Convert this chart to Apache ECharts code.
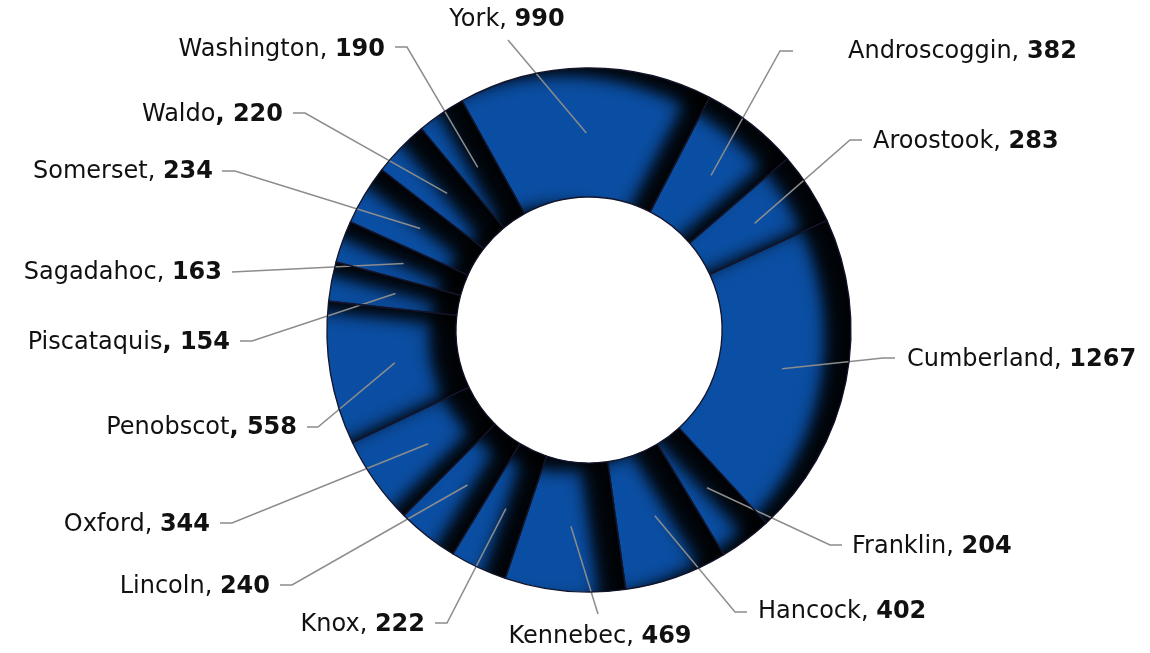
<!DOCTYPE html>
<html><head><meta charset="utf-8">
<script src="https://cdn.jsdelivr.net/npm/echarts@6/dist/echarts.min.js"></script>
<style>html,body{margin:0;padding:0;background:#fff}#c{width:1150px;height:653px}</style>
</head><body><div id="c"></div>
<script>
// ---- data ----
const counties = ['Androscoggin','Aroostook','Cumberland','Franklin','Hancock','Kennebec','Knox','Lincoln','Oxford','Penobscot','Piscataquis','Sagadahoc','Somerset','Waldo','Washington','York'];
const values = [382,283,1267,204,402,469,222,240,344,558,154,163,234,220,190,990];
const boldComma = ['Waldo','Piscataquis','Penobscot'];

// ---- layout / style ----
const CX = 589, CY = 330, R_OUT = 262, R_IN = 133, START_DEG = 27.4;
const LINE_R = 197;
const BLUE = '#0a4fa5';
const FONT = 'DejaVu Sans';
const FS = 24;
// label placement: [elbowX, elbowY, lineEndX, textX, textY, align]
const labelPlace = [
  [780, 51, 793, 848, 52, 'left'],
  [850, 140, 862, 873, 142, 'left'],
  [883, 358, 895, 907, 360, 'left'],
  [830, 545, 842, 852, 547, 'left'],
  [735, 612, 747, 758, 612, 'left'],
  [598, 614, 598, 600, 637, 'center'],
  [447, 623, 435, 425, 625, 'right'],
  [292, 585, 280, 270, 587, 'right'],
  [232, 523, 220, 210, 525, 'right'],
  [318, 427, 307, 297, 428, 'right'],
  [252, 341, 240, 230, 343, 'right'],
  [232, 272, 232, 222, 273, 'right'],
  [235, 171, 222, 213, 172, 'right'],
  [305, 113, 293, 283, 115, 'right'],
  [407, 47, 395, 385, 50, 'right'],
  [508, 40, 508, 507, 20, 'center']
];

// ---- geometry from data ----
const total = values.reduce((a, b) => a + b, 0);
let acc = START_DEG;
const spans = values.map(v => { const a0 = acc; acc += v / total * 360; return [a0, acc]; });
const D2R = Math.PI / 180;

// inner-shadow shading parameters
const K = 28, SIG = 8, A = 0.97;
const SV = [-0.958 * K, 0.287 * K];
const phi = x => 1 / (1 + Math.exp(-1.702 * x));
const CLEAR = 'rgba(0,0,0,0)';

function edgeGrad(nx, ny) {
  const g = -(SV[0] * nx + SV[1] * ny);
  if (g < -2.5 * SIG) return CLEAR;
  const L = Math.max(g, 0) + 3 * SIG;
  const stops = [];
  for (let i = 0; i <= 12; i++) {
    const t = i / 12, d = t * L;
    stops.push({ offset: t, color: 'rgba(0,0,0,' + (A * phi((g - d) / SIG)).toFixed(3) + ')' });
  }
  return { type: 'linear', x: CX, y: CY, x2: CX - nx * L, y2: CY - ny * L, colorStops: stops, global: true };
}
function arcGrad() {
  const Rg = R_OUT + 4 * SIG + K;
  const stops = [];
  for (let rho = 0; rho <= Rg; rho += 2) {
    const a = Math.max(phi((R_IN - rho) / SIG), phi((rho - R_OUT) / SIG)) * A;
    stops.push({ offset: rho / Rg, color: 'rgba(0,0,0,' + a.toFixed(3) + ')' });
  }
  return { type: 'radial', x: CX + SV[0], y: CY + SV[1], r: Rg, colorStops: stops, global: true };
}

const startShade = spans.map(([a0]) => edgeGrad(-Math.cos(a0 * D2R), -Math.sin(a0 * D2R)));
const endShade = spans.map(([, a1]) => edgeGrad(Math.cos(a1 * D2R), Math.sin(a1 * D2R)));

function pieBase(extra) {
  return Object.assign({
    type: 'pie', center: [CX, CY], radius: [R_IN, R_OUT],
    startAngle: 90 - START_DEG, clockwise: true, animation: false,
    avoidLabelOverlap: false, minAngle: 0,
    label: { show: false }, labelLine: { show: false },
    emphasis: { disabled: true }, silent: true
  }, extra);
}

const series = [
  pieBase({ z: 1, data: counties.map((n, i) => ({ name: n, value: values[i], itemStyle: { color: BLUE } })) }),
  pieBase({ z: 2, data: counties.map((n, i) => ({ name: n, value: values[i], itemStyle: { color: startShade[i] } })) }),
  pieBase({ z: 3, data: counties.map((n, i) => ({ name: n, value: values[i], itemStyle: { color: endShade[i] } })) }),
  pieBase({ z: 4, data: counties.map((n, i) => ({ name: n, value: values[i], itemStyle: { color: arcGrad() } })) }),
  pieBase({
    z: 5,
    data: counties.map((n, i) => ({ name: n, value: values[i] })),
    itemStyle: { color: CLEAR, borderColor: '#14142a', borderWidth: 1.3 },
    label: {
      show: true, position: 'outside',
      formatter: p => boldComma.includes(p.name) ? '{n|' + p.name + '}{v|, ' + p.value + '}' : '{n|' + p.name + ', }{v|' + p.value + '}',
      rich: {
        n: { fontFamily: FONT, fontSize: FS, color: '#111' },
        v: { fontFamily: FONT, fontSize: FS, fontWeight: 'bold', color: '#111' }
      }
    },
    labelLine: { show: true, smooth: false, lineStyle: { color: '#8c8c8c', width: 1.5 } },
    labelLayout: function (p) {
      const i = p.dataIndex;
      const lp = labelPlace[i];
      const mid = (spans[i][0] + spans[i][1]) / 2 * D2R;
      const sx = CX + LINE_R * Math.sin(mid), sy = CY - LINE_R * Math.cos(mid);
      return {
        x: lp[3], y: lp[4], align: lp[5], verticalAlign: 'middle',
        hideOverlap: false, moveOverlap: null,
        labelLinePoints: [[sx, sy], [lp[0], lp[1]], [lp[2], lp[1]]]
      };
    }
  })
];

const chart = echarts.init(document.getElementById('c'), null, { renderer: 'canvas' });
chart.setOption({ backgroundColor: '#fff', animation: false, series: series });
</script>
</body></html>
